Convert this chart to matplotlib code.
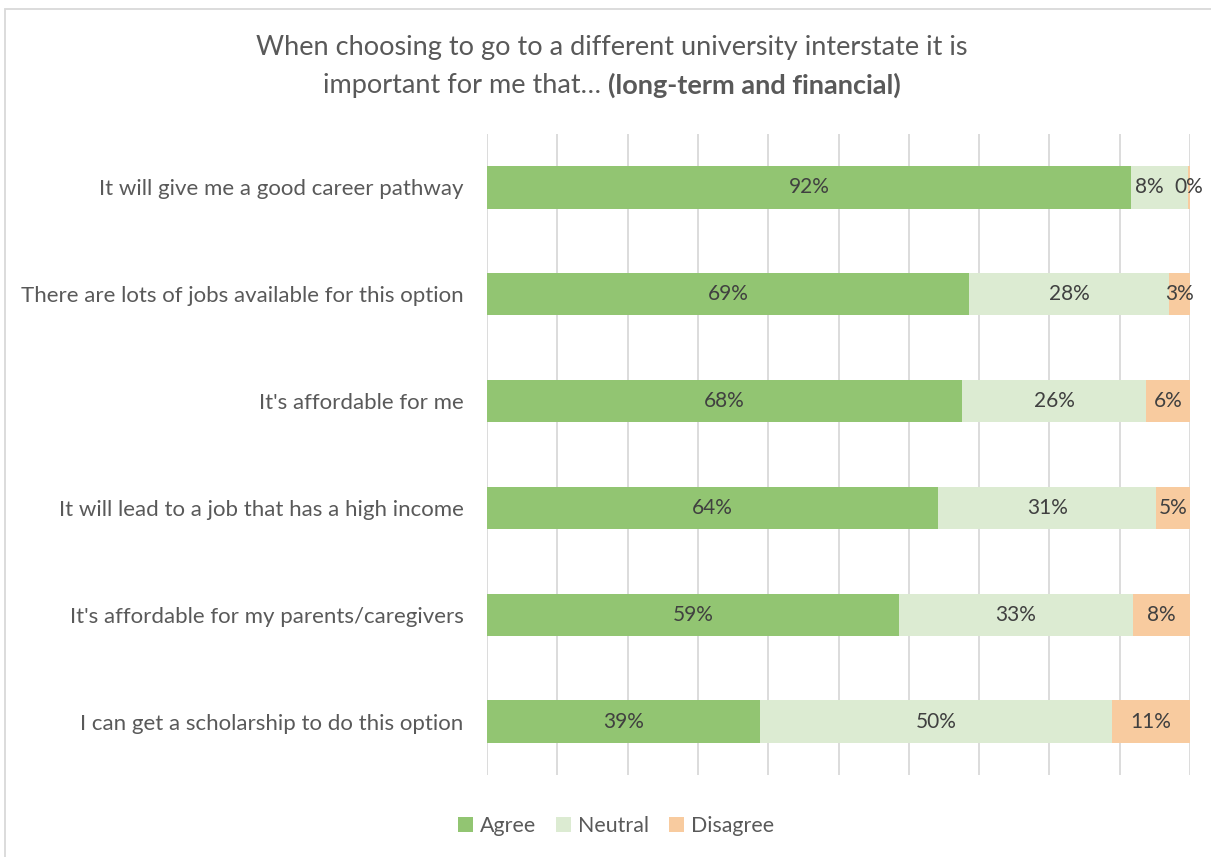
import matplotlib
matplotlib.use("Agg")
import matplotlib.pyplot as plt
from matplotlib.patches import Rectangle

plt.rcParams["font.family"] = ["Lato", "DejaVu Sans"]

statements = [
    "It will give me a good career pathway",
    "There are lots of jobs available for this option",
    "It's affordable for me",
    "It will lead to a job that has a high income",
    "It's affordable for my parents/caregivers",
    "I can get a scholarship to do this option",
]
agree = [0.916, 0.686, 0.676, 0.642, 0.586, 0.388]
neutral = [0.081, 0.284, 0.261, 0.310, 0.333, 0.501]
disagree = [0.003, 0.030, 0.063, 0.048, 0.081, 0.111]

series = [("Agree", agree, "#92c572"),
          ("Neutral", neutral, "#dcebd2"),
          ("Disagree", disagree, "#f8cb9f")]

W, H = 1211, 857
fig = plt.figure(figsize=(W / 100, H / 100), dpi=100)
ax = fig.add_axes([487 / W, 1 - 775 / H, 703 / W, 641 / H])

# small labels squeezed next to a sliver get pushed left a little (points)
nudge = {(0, "Neutral"): -7}

ys = list(range(len(statements)))[::-1]
left = [0.0] * len(statements)
for name, vals, col in series:
    ax.barh(ys, vals, left=left, height=0.395, color=col, label=name, zorder=3)
    for i, (y, l, v) in enumerate(zip(ys, left, vals)):
        ax.annotate(f"{round(v * 100):.0f}%", (l + v / 2, y),
                    xytext=(nudge.get((i, name), 0), 0), textcoords="offset points",
                    ha="center", va="center", fontsize=15, color="#404040", zorder=4)
    left = [a + b for a, b in zip(left, vals)]

ax.set_xlim(0, 1)
ax.set_ylim(-0.5, len(statements) - 0.5)
ax.set_xticks([i / 10 for i in range(11)])
ax.xaxis.grid(True, color="#d9d9d9", linewidth=1.3, zorder=0)
ax.tick_params(axis="x", length=0, labelbottom=False)
ax.tick_params(axis="y", length=0, pad=17, labelsize=16, labelcolor="#595959")
ax.set_yticks(ys)
ax.set_yticklabels(statements)
for s in ax.spines.values():
    s.set_visible(False)

# two-line title, second line has a bold tail
title_color = "#595959"
fig.text(612 / W, 1 - 47 / H, "When choosing to go to a different university interstate it is",
         ha="center", va="center", fontsize=19.5, color=title_color)
renderer = fig.canvas.get_renderer()
t1 = fig.text(0, 1 - 85 / H, "important for me that… ", ha="left", va="center",
              fontsize=19.5, color=title_color)
t2 = fig.text(0, 1 - 85 / H, "(long-term and financial)", ha="left", va="center",
              fontsize=19.5, fontweight="bold", color=title_color)
w1 = t1.get_window_extent(renderer).width
w2 = t2.get_window_extent(renderer).width
x0 = 612 - (w1 + w2) / 2
t1.set_x(x0 / W)
t2.set_x((x0 + w1) / W)

leg = fig.legend(loc="center", bbox_to_anchor=(616 / W, 1 - 826 / H), ncol=3, frameon=False,
                 fontsize=15.4, handlelength=0.7, handleheight=0.7, handletextpad=0.35,
                 columnspacing=0.9)
for t in leg.get_texts():
    t.set_color(title_color)

# outer chart border
fig.add_artist(Rectangle((5 / W, -0.1), 1.2, 1 - 9 / H + 0.1, transform=fig.transFigure,
                         fill=False, edgecolor="#d9d9d9", linewidth=1.3))

fig.savefig("out.png", dpi=100)
